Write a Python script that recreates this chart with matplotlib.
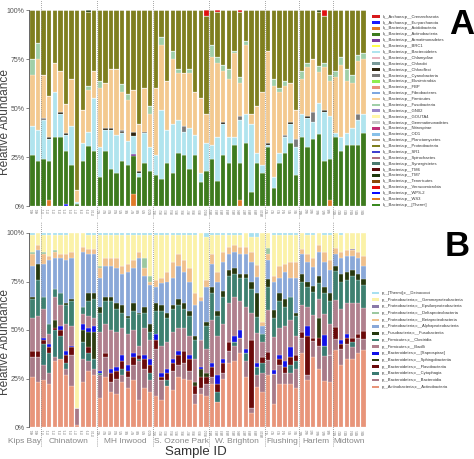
import numpy as np
import matplotlib.pyplot as plt
from matplotlib.patches import Rectangle
from matplotlib.transforms import blended_transform_factory

plt.rcParams["font.family"] = ["Liberation Sans", "DejaVu Sans"]

# ---- samples / groups ----
groups = ["Kips Bay", "Chinatown", "MH Inwood", "S. Ozone Park",
          "W. Brighton", "Flushing", "Harlem", "Midtown"]
group_sizes = [2, 10, 10, 10, 10, 6, 6, 6]
group_codes = ["KB", "CT", "MI", "SO", "WB", "FL", "HA", "MT"]
sample_ids = [f"{c}{i + 1}" for c, n in zip(group_codes, group_sizes) for i in range(n)]

# ---- panel A: phyla (percent) ----
phyla = [
    "k__Archaea;p__Crenarchaeota", "k__Archaea;p__Euryarchaeota",
    "k__Bacteria;p__Acidobacteria", "k__Bacteria;p__Actinobacteria",
    "k__Bacteria;p__Armatimonadetes", "k__Bacteria;p__BRC1",
    "k__Bacteria;p__Bacteroidetes", "k__Bacteria;p__Chlamydiae",
    "k__Bacteria;p__Chlorobi", "k__Bacteria;p__Chloroflexi",
    "k__Bacteria;p__Cyanobacteria", "k__Bacteria;p__Elusimicrobia",
    "k__Bacteria;p__FBP", "k__Bacteria;p__Fibrobacteres",
    "k__Bacteria;p__Firmicutes", "k__Bacteria;p__Fusobacteria",
    "k__Bacteria;p__GN02", "k__Bacteria;p__GOUTA4",
    "k__Bacteria;p__Gemmatimonadetes", "k__Bacteria;p__Nitrospirae",
    "k__Bacteria;p__OD1", "k__Bacteria;p__Planctomycetes",
    "k__Bacteria;p__Proteobacteria", "k__Bacteria;p__SR1",
    "k__Bacteria;p__Spirochaetes", "k__Bacteria;p__Synergistetes",
    "k__Bacteria;p__TM6", "k__Bacteria;p__TM7",
    "k__Bacteria;p__Tenericutes", "k__Bacteria;p__Verrucomicrobia",
    "k__Bacteria;p__WPS-2", "k__Bacteria;p__WS3", "k__Bacteria;p__[Thermi]",
]
phyla_colors = [
    "#d7191c", "#1a1aff", "#e07b2a", "#3e7b1e", "#7b3f9e", "#ffff4d",
    "#b0e4ee", "#e8b4c0", "#7a9a9a", "#2e2410", "#7a7a7a", "#90ee50",
    "#e8937a", "#7ea7e0", "#f3c98f", "#a0cfa8", "#9a88c8", "#fff7a8",
    "#c8c8c8", "#c0307a", "#88c0e8", "#b09a70", "#7f7f1f", "#4040d0",
    "#b07080", "#4a7a70", "#5c0a0a", "#1e3a0e", "#8a4a0a", "#e01010",
    "#0a0aff", "#e07b20", "#3a8a20",
]

acidobacteria = [0, 0, 0, 3, 0, 0, 0, 0, 0, 0, 0, 0, 0, 0, 0, 0, 0, 0, 6, 0,
                 0, 0, 0, 0, 0, 0, 0, 0, 0, 0, 0, 0, 0, 0, 0, 0, 0, 3, 0, 0,
                 0, 0, 0, 0, 0, 0, 0, 0, 0, 0, 0, 0, 0, 3, 0, 0, 0, 0, 0, 0]
actinobacteria = [26, 23, 24, 20, 35, 35, 27, 21, 1, 23, 31, 28, 15, 28, 19, 17, 23, 21, 20, 15,
                  22, 18, 16, 14, 22, 17, 27, 26, 19, 26, 12, 18, 24, 13, 26, 22, 31, 19, 32, 7,
                  22, 17, 30, 9, 22, 27, 32, 16, 35, 30, 34, 37, 23, 21, 35, 28, 31, 31, 31, 37]
bacteroidetes = [15, 16, 20, 11, 23, 12, 8, 20, 1, 9, 7, 27, 15, 11, 20, 19, 14, 12, 9, 2,
                 15, 12, 10, 35, 17, 25, 17, 12, 21, 10, 5, 14, 7, 22, 16, 13, 4, 22, 15, 35,
                 5, 4, 1, 6, 5, 8, 10, 14, 12, 15, 9, 16, 25, 22, 2, 7, 6, 9, 13, 10]
chloroflexi = [0, 0, 0, 1, 0, 1, 1, 0, 0, 0, 0, 0, 0, 1, 1, 0, 1, 0, 2, 1,
               1, 0, 0, 0, 0, 0, 0, 0, 0, 0, 0, 0, 0, 0, 1, 0, 0, 0, 0, 0,
               0, 0, 1, 0, 0, 0, 1, 0, 0, 1, 0, 0, 1, 0, 0, 0, 0, 0, 0, 0]
cyanobacteria = [0, 0, 1, 0, 0, 0, 0, 0, 0, 0, 0, 0, 0, 0, 0, 0, 1, 0, 0, 0,
                 0, 0, 0, 0, 0, 0, 0, 3, 0, 0, 0, 0, 0, 0, 0, 0, 0, 2, 0, 0,
                 0, 0, 0, 0, 0, 1, 0, 4, 0, 0, 5, 0, 0, 0, 0, 0, 0, 0, 3, 0]
firmicutes = [26, 36, 22, 21, 15, 21, 15, 24, 6, 17, 22, 14, 30, 23, 30, 34, 19, 21, 22, 24,
              22, 17, 34, 33, 25, 33, 24, 27, 28, 22, 38, 15, 45, 38, 26, 30, 43, 17, 35, 5,
              24, 37, 47, 46, 31, 25, 20, 15, 18, 25, 27, 16, 22, 18, 29, 37, 27, 23, 27, 28]
fusobacteria = [8, 8, 0, 0, 0, 0, 0, 0, 0, 0, 2, 0, 4, 0, 0, 0, 4, 3, 0, 0,
                0, 4, 0, 4, 0, 4, 2, 0, 2, 0, 0, 0, 6, 3, 3, 5, 1, 3, 2, 0,
                0, 0, 0, 4, 2, 3, 0, 0, 4, 2, 0, 3, 2, 3, 3, 4, 6, 4, 3, 3]
proteobacteria = [25, 17, 33, 44, 27, 31, 48, 35, 92, 51, 38, 31, 36, 37, 30, 30, 38, 43, 41, 58,
                  40, 49, 40, 14, 36, 21, 30, 32, 30, 42, 45, 50, 18, 23, 28, 30, 21, 33, 16, 53,
                  49, 42, 21, 35, 40, 36, 37, 51, 31, 27, 25, 28, 24, 33, 31, 24, 30, 33, 23, 22]
# small top slivers: {sample index: percent}
euryarchaeota_spots = {6: 1}
armatimonadetes_spots = {18: 1}
tm7_spots = {10: 1, 51: 1}
verrucomicrobia_spots = {31: 3, 33: 1, 37: 1, 52: 3}

# ---- panel B: classes (percent) ----
classes = [
    "p__[Thermi];c__Deinococci", "p__Proteobacteria;c__Gammaproteobacteria",
    "p__Proteobacteria;c__Epsilonproteobacteria", "p__Proteobacteria;c__Deltaproteobacteria",
    "p__Proteobacteria;c__Betaproteobacteria", "p__Proteobacteria;c__Alphaproteobacteria",
    "p__Fusobacteria;c__Fusobacteriia", "p__Firmicutes;c__Clostridia",
    "p__Firmicutes;c__Bacilli", "p__Bacteroidetes;c__[Saprospirae]",
    "p__Bacteroidetes;c__Sphingobacteriia", "p__Bacteroidetes;c__Flavobacteriia",
    "p__Bacteroidetes;c__Cytophagia", "p__Bacteroidetes;c__Bacteroidia",
    "p__Actinobacteria;c__Actinobacteria",
]
class_colors = [
    "#a8e0f0", "#fbf2a8", "#8a7aa8", "#9cc8a0", "#f0c08c", "#8aa8d8",
    "#26380e", "#3e8070", "#b0808e", "#1010e8", "#2e3e12", "#6a0a0a",
    "#3a7a72", "#a87a88", "#e8957a",
]
c_actinobacteria = [26, 23, 24, 22, 34, 35, 27, 21, 1, 23, 29, 27, 15, 26, 18, 17, 23, 20, 24, 14,
                    20, 18, 16, 14, 21, 19, 26, 25, 24, 12, 17, 16, 22, 13, 25, 33, 34, 38, 26, 7,
                    20, 18, 27, 12, 22, 22, 22, 20, 38, 24, 37, 30, 22, 23, 40, 32, 35, 35, 38, 40]
c_bacteroidia = [10, 13, 8, 6, 2, 0, 3, 16, 9, 12, 5, 3, 12, 10, 5, 8, 4, 6, 8, 20,
                 10, 6, 24, 10, 0, 10, 6, 8, 5, 5, 3, 6, 4, 0, 3, 6, 8, 8, 8, 3,
                 6, 10, 8, 16, 10, 6, 6, 10, 8, 3, 8, 12, 12, 14, 6, 8, 8, 6, 8, 6]
c_cytophagia = [0, 0, 11, 10, 14, 12, 3, 0, 0, 9, 4, 5, 1, 0, 0, 0, 3, 0, 0, 1,
                0, 4, 0, 0, 3, 0, 0, 0, 0, 0, 0, 0, 0, 5, 0, 0, 2, 0, 4, 0,
                4, 5, 0, 0, 0, 0, 4, 4, 0, 0, 0, 0, 5, 0, 0, 0, 0, 3, 0, 0]
c_flavobacteria = [3, 3, 2, 3, 1, 3, 4, 4, 0, 0, 3, 0, 0, 2, 5, 4, 4, 3, 4, 2,
                   5, 4, 5, 2, 4, 4, 5, 6, 6, 4, 6, 4, 5, 4, 5, 5, 0, 0, 0, 35,
                   0, 3, 4, 0, 3, 3, 4, 3, 3, 20, 2, 4, 0, 0, 6, 3, 3, 2, 2, 4]
c_sphingobacteria = [0, 0, 0, 0, 4, 0, 0, 0, 0, 6, 8, 14, 0, 0, 0, 0, 0, 0, 0, 0,
                     0, 0, 0, 0, 0, 0, 0, 0, 0, 2, 4, 2, 0, 0, 0, 0, 0, 0, 0, 0,
                     0, 0, 0, 0, 0, 0, 0, 0, 0, 0, 0, 10, 0, 0, 0, 0, 0, 0, 0, 0]
c_saprospirae = [0, 0, 1, 2, 0, 2, 2, 1, 0, 3, 2, 3, 1, 0, 2, 2, 3, 3, 2, 0,
                 2, 3, 3, 2, 2, 2, 2, 0, 2, 0, 1, 0, 2, 5, 2, 0, 3, 4, 2, 0,
                 2, 0, 0, 2, 2, 3, 5, 0, 0, 5, 0, 0, 5, 0, 0, 2, 2, 0, 0, 0]
c_bacilli = [17, 18, 15, 5, 12, 11, 14, 10, 0, 5, 6, 4, 20, 15, 20, 18, 14, 16, 12, 5,
             14, 10, 0, 14, 14, 14, 12, 12, 10, 12, 14, 12, 22, 20, 18, 20, 20, 15, 22, 14,
             15, 8, 22, 18, 14, 18, 14, 10, 14, 10, 12, 10, 10, 16, 14, 16, 16, 18, 16, 12]
c_clostridia = [10, 19, 6, 5, 4, 6, 10, 13, 0, 4, 8, 10, 10, 12, 15, 12, 8, 8, 10, 16,
                8, 4, 12, 18, 12, 12, 12, 10, 10, 10, 0, 12, 14, 10, 14, 14, 12, 12, 15, 12,
                8, 4, 12, 10, 14, 10, 12, 10, 12, 10, 12, 8, 10, 12, 15, 14, 12, 14, 12, 12]
c_fusobacteriia = [1, 8, 0, 0, 0, 0, 1, 1, 0, 0, 4, 3, 3, 2, 2, 3, 4, 1, 4, 1,
                   3, 4, 4, 3, 3, 2, 3, 3, 3, 2, 0, 2, 3, 3, 3, 3, 3, 2, 2, 4,
                   12, 0, 4, 4, 4, 4, 0, 2, 4, 3, 3, 4, 3, 4, 3, 4, 4, 3, 3, 3]
c_alpha = [16, 7, 17, 33, 16, 18, 22, 21, 0, 28, 20, 20, 15, 16, 16, 18, 16, 23, 18, 28,
           16, 20, 8, 11, 16, 14, 17, 16, 15, 16, 20, 18, 12, 15, 15, 8, 8, 10, 10, 10,
           8, 4, 10, 15, 8, 14, 10, 18, 10, 10, 10, 12, 12, 12, 6, 8, 8, 7, 8, 7]
c_beta = [6, 3, 5, 2, 3, 2, 3, 3, 0, 3, 3, 3, 5, 4, 4, 5, 4, 4, 4, 3,
          4, 2, 4, 3, 5, 8, 6, 6, 7, 6, 2, 4, 5, 5, 5, 4, 4, 4, 4, 5,
          6, 2, 3, 3, 6, 4, 8, 8, 3, 4, 5, 4, 5, 5, 3, 3, 3, 3, 3, 5]
c_delta = [1, 0, 1, 0, 1, 0, 0, 0, 0, 0, 0, 0, 1, 0, 0, 0, 0, 0, 0, 0,
           5, 3, 0, 0, 0, 0, 0, 0, 0, 0, 0, 0, 0, 0, 0, 0, 0, 0, 0, 0,
           0, 0, 3, 0, 0, 0, 0, 0, 0, 0, 0, 0, 0, 0, 0, 0, 0, 0, 0, 0]
c_epsilon = [0, 0, 0, 0, 0, 0, 0, 0, 0, 0, 0, 0, 0, 0, 0, 0, 0, 0, 0, 0,
             0, 0, 0, 0, 0, 0, 0, 0, 0, 0, 0, 0, 0, 0, 0, 0, 0, 0, 0, 0,
             0, 0, 0, 0, 0, 0, 0, 0, 0, 0, 0, 0, 0, 0, 0, 0, 0, 1, 0, 0]
c_gamma = [9, 6, 9, 11, 8, 10, 10, 10, 90, 7, 7, 7, 16, 12, 12, 12, 16, 15, 13, 9,
           12, 21, 23, 22, 19, 14, 10, 13, 17, 30, 33, 22, 10, 19, 9, 6, 5, 6, 7, 8,
           14, 46, 8, 22, 16, 15, 14, 14, 8, 10, 12, 6, 8, 13, 8, 9, 9, 8, 10, 12]
c_deinococci = [1, 0, 1, 1, 1, 1, 1, 0, 0, 0, 1, 1, 1, 1, 1, 1, 1, 1, 1, 1,
                1, 1, 1, 1, 1, 1, 1, 1, 1, 1, 0, 2, 1, 1, 1, 1, 1, 1, 0, 2,
                2, 0, 0, 1, 1, 1, 1, 1, 0, 1, 1, 0, 1, 1, 0, 1, 0, 0, 0, 0]


def spots(d, n):
    v = np.zeros(n)
    for k, val in d.items():
        v[k] = val
    return v


n = len(sample_ids)
x = np.arange(n)

a_vals = {name: np.zeros(n) for name in phyla}
a_vals["k__Archaea;p__Euryarchaeota"] = spots(euryarchaeota_spots, n)
a_vals["k__Bacteria;p__Acidobacteria"] = np.array(acidobacteria, float)
a_vals["k__Bacteria;p__Actinobacteria"] = np.array(actinobacteria, float)
a_vals["k__Bacteria;p__Armatimonadetes"] = spots(armatimonadetes_spots, n)
a_vals["k__Bacteria;p__Bacteroidetes"] = np.array(bacteroidetes, float)
a_vals["k__Bacteria;p__Chloroflexi"] = np.array(chloroflexi, float)
a_vals["k__Bacteria;p__Cyanobacteria"] = np.array(cyanobacteria, float)
a_vals["k__Bacteria;p__Firmicutes"] = np.array(firmicutes, float)
a_vals["k__Bacteria;p__Fusobacteria"] = np.array(fusobacteria, float)
a_vals["k__Bacteria;p__Proteobacteria"] = np.array(proteobacteria, float)
a_vals["k__Bacteria;p__TM7"] = spots(tm7_spots, n)
a_vals["k__Bacteria;p__Verrucomicrobia"] = spots(verrucomicrobia_spots, n)

b_series = [c_deinococci, c_gamma, c_epsilon, c_delta, c_beta, c_alpha,
            c_fusobacteriia, c_clostridia, c_bacilli, c_saprospirae,
            c_sphingobacteria, c_flavobacteria, c_cytophagia, c_bacteroidia,
            c_actinobacteria]
b_vals = {name: np.array(s, float) for name, s in zip(classes, b_series)}

# relative abundance: each sample sums to 100 %
a_tot = sum(a_vals.values())
b_tot = sum(b_vals.values())

W, H = 474, 459
fig = plt.figure(figsize=(W / 100, H / 100), dpi=100)
axA = fig.add_axes([29 / W, 1 - 206 / H, 338 / W, 196 / H])
axB = fig.add_axes([29 / W, 1 - 427 / H, 338 / W, 194 / H])

bounds = np.cumsum(group_sizes)[:-1] - 0.5
starts = np.concatenate([[0], np.cumsum(group_sizes)[:-1]])


def draw(ax, names, colors, vals, tot):
    bottom = np.zeros(n)
    for name, col in zip(names, colors):
        v = vals[name] / tot * 100
        ax.bar(x, v, bottom=bottom, width=0.78, color=col,
               edgecolor="white", linewidth=0.15)
        bottom += v
    ax.set_xlim(-0.6, n - 0.4)
    ax.set_ylim(0, 100)
    ax.set_yticks([0, 25, 50, 75, 100])
    ax.set_yticklabels(["0%", "25%", "50%", "75%", "100%"])
    ax.tick_params(axis="y", labelsize=5, colors="#555", length=2, width=0.5, pad=1)
    ax.set_xticks(x)
    ax.set_xticklabels(sample_ids, rotation=90, fontsize=2, color="#777")
    ax.tick_params(axis="x", length=0, pad=1.5)
    for s in ["top", "right", "bottom"]:
        ax.spines[s].set_visible(False)
    ax.spines["left"].set_color("#666")
    ax.spines["left"].set_linewidth(0.7)


draw(axA, phyla, phyla_colors, a_vals, a_tot)
draw(axB, classes[::-1], class_colors[::-1], b_vals, b_tot)

for b in bounds:
    axA.axvline(b, ymin=-0.06, ymax=1.05, color="#888", ls=(0, (1, 1.5)),
                lw=0.6, clip_on=False)
    axB.axvline(b, ymin=-0.1, ymax=1.06, color="#888", ls=(0, (1, 1.5)),
                lw=0.6, clip_on=False)

trB = blended_transform_factory(axB.transData, axB.transAxes)
for g, s0, sz in zip(groups, starts, group_sizes):
    if g == "Kips Bay":
        axB.text(s0 + sz - 0.5, -0.075, g, transform=trB, ha="right", va="center",
                 fontsize=6, color="#888")
    else:
        axB.text(s0 + (sz - 1) / 2, -0.075, g, transform=trB, ha="center", va="center",
                 fontsize=6, color="#888")

fig.text(196 / W, 1 - 452 / H, "Sample ID", ha="center", va="center",
         fontsize=9.5, color="#333")

# overlay in pixel coordinates for y labels, legends and panel letters
lax = fig.add_axes([0, 0, 1, 1])
lax.set_xlim(0, W)
lax.set_ylim(H, 0)
lax.axis("off")

for yc in (122, 342):
    lax.text(8.4, yc, "Relative Abundance", rotation=90, rotation_mode="anchor",
             ha="center", va="baseline", fontsize=8.6, color="#444")

for i, (name, col) in enumerate(zip(phyla, phyla_colors)):
    y = 16.7 + i * 5.88
    lax.add_patch(Rectangle((372, y - 1.3), 8, 2.6, color=col, lw=0))
    lax.text(382.5, y, name, fontsize=3.0, color="#333", va="center", ha="left")

for i, (name, col) in enumerate(zip(classes, class_colors)):
    y = 293 + i * 6.7
    lax.add_patch(Rectangle((372, y - 1.3), 7, 2.6, color=col, lw=0))
    lax.text(382, y, name, fontsize=3.0, color="#333", va="center", ha="left")

lax.text(462, 25, "A", fontsize=25, fontweight="bold", ha="center", va="center")
lax.text(457, 246, "B", fontsize=25, fontweight="bold", ha="center", va="center")

fig.savefig("out.png", dpi=100)
